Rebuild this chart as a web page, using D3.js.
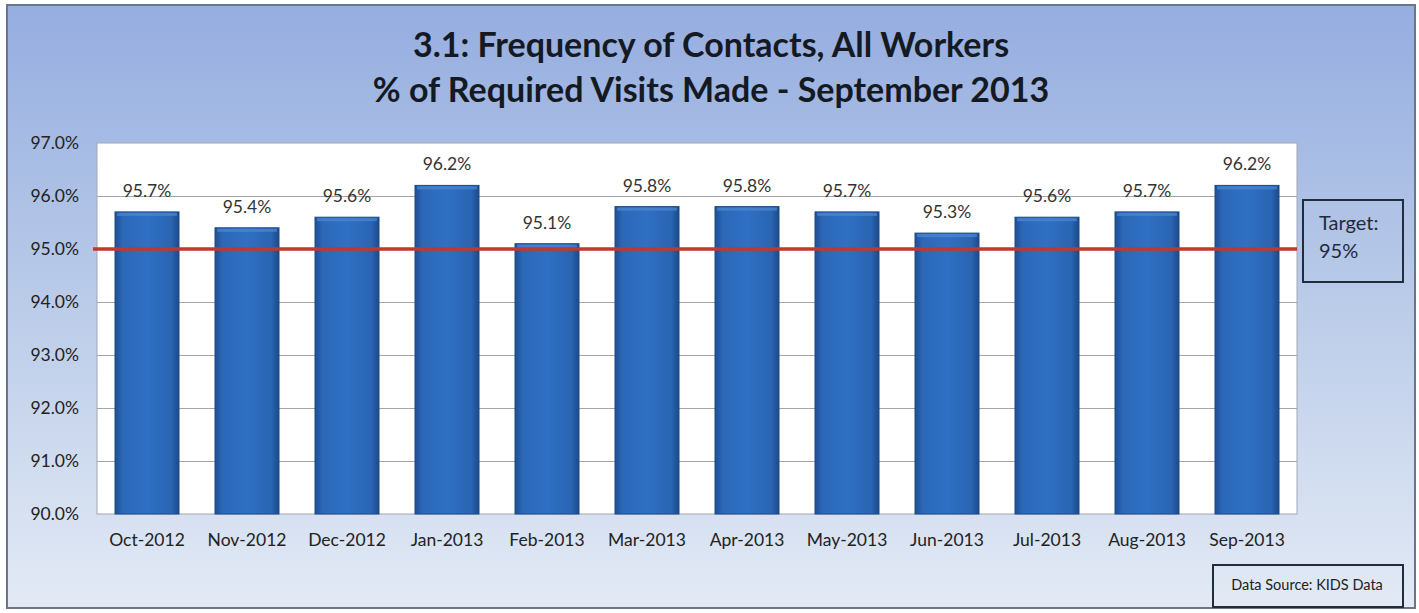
<!DOCTYPE html>
<html><head><meta charset="utf-8">
<script src="https://cdn.jsdelivr.net/npm/d3@7"></script>
<style>body{margin:0;background:#fff;}svg{display:block;}</style>
</head><body>
<script>
const categories = ["Oct-2012","Nov-2012","Dec-2012","Jan-2013","Feb-2013","Mar-2013","Apr-2013","May-2013","Jun-2013","Jul-2013","Aug-2013","Sep-2013"];
const values = [95.7,95.4,95.6,96.2,95.1,95.8,95.8,95.7,95.3,95.6,95.7,96.2];
const yTicks = [90,91,92,93,94,95,96,97];
const target = 95;
const titleLines = ["3.1: Frequency of Contacts, All Workers","% of Required Visits Made - September 2013"];

const W=1419,H=613;
const FONT="Lato, 'Open Sans', sans-serif";
const svg=d3.select("body").append("svg").attr("width",W).attr("height",H);
const defs=svg.append("defs");
const bg=defs.append("linearGradient").attr("id","bg").attr("x1",0).attr("y1",0).attr("x2",0).attr("y2",1);
bg.append("stop").attr("offset","0").attr("stop-color","#95ade0");
bg.append("stop").attr("offset","0.45").attr("stop-color","#b7c9e8");
bg.append("stop").attr("offset","1").attr("stop-color","#e3eaf5");
const bar=defs.append("linearGradient").attr("id","bar").attr("x1",0).attr("y1",0).attr("x2",1).attr("y2",0);
bar.append("stop").attr("offset","0").attr("stop-color","#1d4f94");
bar.append("stop").attr("offset","0.12").attr("stop-color","#2c68b8");
bar.append("stop").attr("offset","0.5").attr("stop-color","#2f70c4");
bar.append("stop").attr("offset","0.88").attr("stop-color","#2a64b2");
bar.append("stop").attr("offset","1").attr("stop-color","#1b4a8c");

svg.append("rect").attr("x",0).attr("y",0).attr("width",W).attr("height",H).attr("fill","#fff");
svg.append("rect").attr("x",7).attr("y",5).attr("width",1408).attr("height",603)
  .attr("fill","url(#bg)").attr("stroke","#6b7585").attr("stroke-width",2);

const m={l:97,r:1297,t:143,b:514};
const x=d3.scaleBand().domain(categories).range([m.l,m.r]).paddingInner(0.36).paddingOuter(0.18);
const y=d3.scaleLinear().domain([90,97]).range([m.b,m.t]);

svg.append("rect").attr("x",m.l).attr("y",m.t).attr("width",m.r-m.l).attr("height",m.b-m.t)
  .attr("fill","#fff").attr("stroke","#a0a8b4").attr("stroke-width",1);

// gridlines
svg.append("g").selectAll("line").data(yTicks.filter(d=>d>90&&d<97)).join("line")
  .attr("x1",m.l).attr("x2",m.r).attr("y1",d=>y(d)+0.5).attr("y2",d=>y(d)+0.5)
  .attr("stroke","#a6a6a6").attr("stroke-width",1);

// y axis
const ya=svg.append("g").attr("transform",`translate(${m.l},0)`)
  .call(d3.axisLeft(y).tickValues(yTicks).tickFormat(d=>d.toFixed(1)+"%").tickSize(0).tickPadding(18));
ya.select(".domain").remove();
ya.selectAll("text").attr("font-family",FONT).attr("font-size",17.5).attr("fill","#222");

// x axis
const xa=svg.append("g").attr("transform",`translate(0,${m.b})`)
  .call(d3.axisBottom(x).tickSize(0).tickPadding(20));
xa.select(".domain").remove();
xa.selectAll("text").attr("font-family",FONT).attr("font-size",17.5).attr("fill","#222");

// bars
const g=svg.append("g");
g.selectAll("rect.b").data(values).join("rect").attr("class","b")
  .attr("x",(d,i)=>x(categories[i])).attr("width",x.bandwidth())
  .attr("y",d=>y(d)).attr("height",d=>y(90)-y(d))
  .attr("fill","url(#bar)").attr("stroke","#1c4a88").attr("stroke-width",1);
g.selectAll("rect.h").data(values).join("rect").attr("class","h")
  .attr("x",(d,i)=>x(categories[i])+2).attr("width",x.bandwidth()-4)
  .attr("y",d=>y(d)+1).attr("height",3)
  .attr("fill","#4f89d2").attr("opacity",0.7);

// labels
g.selectAll("text.v").data(values).join("text").attr("class","v")
  .attr("x",(d,i)=>x(categories[i])+x.bandwidth()/2).attr("y",d=>y(d)-15)
  .attr("text-anchor","middle").attr("font-family",FONT)
  .attr("font-size",17.5).attr("fill","#333").text(d=>d.toFixed(1)+"%");

// target line
svg.append("line").attr("x1",m.l-4).attr("x2",m.r).attr("y1",y(target)).attr("y2",y(target))
  .attr("stroke","#c0392b").attr("stroke-width",3.5);

// target box
svg.append("rect").attr("x",1303).attr("y",200).attr("width",100).attr("height",82)
  .attr("fill","none").attr("stroke","#1f2d3d").attr("stroke-width",2);
svg.append("text").attr("x",1319).attr("y",230).attr("font-family",FONT)
  .attr("font-size",20).attr("fill","#1f2a3a").text("Target:");
svg.append("text").attr("x",1319).attr("y",258).attr("font-family",FONT)
  .attr("font-size",20).attr("fill","#1f2a3a").text(target+"%");

// data source box
svg.append("rect").attr("x",1213).attr("y",565).attr("width",190).attr("height",42)
  .attr("fill","none").attr("stroke","#1f2d3d").attr("stroke-width",2);
svg.append("text").attr("x",1307).attr("y",590).attr("text-anchor","middle")
  .attr("font-family",FONT).attr("font-size",14.5).attr("fill","#222")
  .text("Data Source: KIDS Data");

// title
svg.append("g").selectAll("text").data(titleLines).join("text")
  .attr("x",711).attr("y",(d,i)=>57+i*45).attr("text-anchor","middle")
  .attr("font-family",FONT).attr("font-weight","bold")
  .attr("font-size",34).attr("fill","#151a22").text(d=>d);
</script>
</body></html>
